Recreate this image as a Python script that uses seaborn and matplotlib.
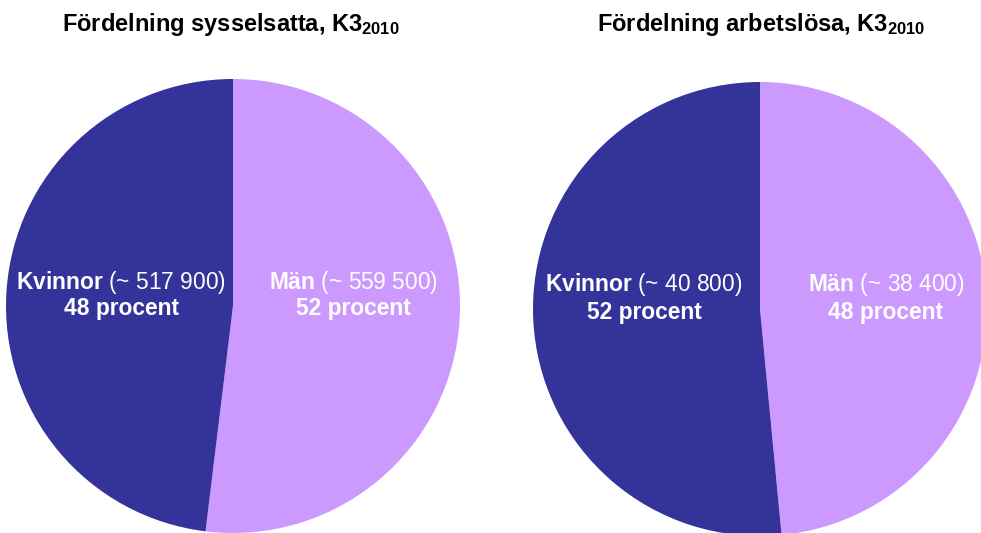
import matplotlib
matplotlib.use("Agg")
import matplotlib.pyplot as plt
import seaborn as sns

# Data
categories = ["Män", "Kvinnor"]
employed = [559500, 517900]
unemployed = [38400, 40800]
employed_labels = ["~ 559 500", "~ 517 900"]
unemployed_labels = ["~ 38 400", "~ 40 800"]
employed_pct = [52, 48]
unemployed_pct = [48, 52]
titles = ["Fördelning sysselsatta, K3", "Fördelning arbetslösa, K3"]
title_sub = "2010"

colors = ["#CC99FF", "#333399"]

sns.set_theme(style="white")
plt.rcParams["font.family"] = ["Liberation Sans", "DejaVu Sans"]
plt.rcParams["mathtext.fontset"] = "custom"
plt.rcParams["mathtext.rm"] = "Liberation Sans"
plt.rcParams["mathtext.bf"] = "Liberation Sans:bold"
plt.rcParams["mathtext.it"] = "Liberation Sans:italic"

W, H = 981, 533
fig = plt.figure(figsize=(W / 100, H / 100), dpi=100)
fig.patch.set_facecolor("white")

def px(x, y):
    return x / W, 1 - y / H

R = 227
specs = [
    dict(cx=233, cy=306, vals=employed, labs=employed_labels, pct=employed_pct,
         title=titles[0], tx=231,
         lab_pos=[(353, 282, 308), (121, 282, 308)]),
    dict(cx=760, cy=309, vals=unemployed, labs=unemployed_labels, pct=unemployed_pct,
         title=titles[1], tx=761,
         lab_pos=[(886, 285, 312), (644, 285, 312)]),
]

for s in specs:
    left = (s["cx"] - R) / W
    bottom = (H - s["cy"] - R) / H
    ax = fig.add_axes([left, bottom, 2 * R / W, 2 * R / H])
    ax.pie(s["vals"], colors=colors, startangle=90, counterclock=False,
           radius=1, wedgeprops=dict(linewidth=0, edgecolor="none"))
    ax.set_xlim(-1, 1)
    ax.set_ylim(-1, 1)
    ax.set_aspect("equal")
    ax.axis("off")

    fig.text(*px(s["tx"], 25),
             s["title"] + r"$_{\mathbf{" + title_sub + "}}$",
             ha="center", va="center", fontsize=17, fontweight="bold", color="black")

    for i, cat in enumerate(categories):
        x, y1, y2 = s["lab_pos"][i]
        fig.text(*px(x, y1), r"$\mathbf{" + cat + "}$ (" + s["labs"][i] + ")",
                 ha="center", va="center", fontsize=16.4, color="white")
        fig.text(*px(x, y2), f"{s['pct'][i]} procent",
                 ha="center", va="center", fontsize=16.4, fontweight="bold", color="white")

fig.savefig("out.png", dpi=100, facecolor="white")
